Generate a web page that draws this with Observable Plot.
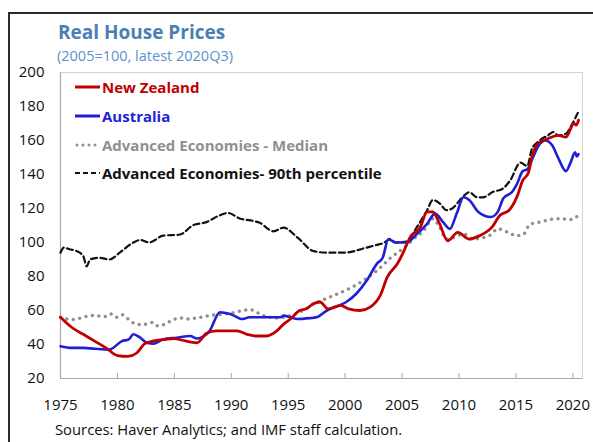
<!DOCTYPE html>
<html>
<head>
<meta charset="utf-8">
<script src="https://cdn.jsdelivr.net/npm/d3@7"></script>
<script src="https://cdn.jsdelivr.net/npm/@observablehq/plot@0.6"></script>
<style>
  html, body { margin: 0; padding: 0; background: #fff; }
  body { width: 593px; height: 442px; position: relative; overflow: hidden; font-family: "Open Sans", "Noto Sans", sans-serif; }
  #frame { position: absolute; left: 8px; top: 12px; width: 590px; height: 440px; border-left: 2px solid #2b2b2b; border-top: 2px solid #2b2b2b; }
  #title { position: absolute; left: 58px; top: 19px; font-size: 19px; font-weight: 700; color: #4a7fb5; white-space: nowrap; }
  #subtitle { position: absolute; left: 57px; top: 46px; font-size: 14.5px; color: #5b92cc; white-space: nowrap; }
  #chart { position: absolute; left: 0; top: 60px; }
  #legend { position: absolute; left: 75px; top: 73px; }
  .row { height: 28.7px; display: flex; align-items: center; font-weight: 700; font-size: 15px; white-space: nowrap; }
  .row svg { margin-right: 1px; }
  #caption { position: absolute; left: 55px; top: 419px; font-size: 14.8px; color: #111; white-space: nowrap; }
</style>
</head>
<body>
<div id="frame"></div>
<div id="title">Real House Prices</div>
<div id="subtitle">(2005=100, latest 2020Q3)</div>
<div id="chart"></div>
<div id="legend"></div>
<div id="caption">Sources: Haver Analytics; and IMF staff calculation.</div>
<script>
// ---- Data ----
const nzX = [1975.0,1976.0,1977.0,1978.0,1979.0,1980.0,1980.9,1981.7,1982.4,1983.1,1984.2,1985.0,1985.7,1987.0,1987.8,1988.7,1990.5,1991.4,1992.2,1993.1,1994.0,1994.6,1995.2,1996.0,1996.6,1997.2,1997.8,1998.5,1999.6,2000.3,2001.3,2002.2,2003.1,2003.7,2004.6,2005.1,2005.7,2006.6,2007.2,2007.7,2008.3,2009.0,2009.9,2010.9,2011.8,2012.9,2013.6,2014.4,2015.1,2015.6,2016.1,2016.4,2016.9,2017.8,2018.7,2019.4,2020.1,2020.3,2020.5];
const nzY = [56,50,46,42,38,33.5,33,35,40.5,42,43,43.5,42.5,41,46.5,48,48,46,45,45,48,52,55,60,61,64,65,61,63,61,60,62,69,79.6,87.6,94,103,109,118,118,111,101,106,102,104,109,116,119,127,136.5,141,150,158,161,163,162,170,169,172];

const auX = [1975.0,1976.0,1977.0,1978.0,1979.3,1980.4,1981.0,1981.4,1982.0,1982.6,1983.2,1984.0,1985.2,1986.4,1987.0,1988.1,1989.0,1989.9,1991.0,1991.6,1992.8,1994.3,1994.6,1995.8,1996.9,1997.5,1998.4,1999.5,2000.1,2001.0,2001.9,2002.8,2003.3,2003.8,2004.4,2005.4,2006.3,2007.2,2007.9,2008.6,2009.2,2009.8,2010.4,2010.9,2011.7,2012.8,2013.4,2013.9,2014.7,2015.1,2015.6,2016.0,2016.5,2017.0,2017.6,2018.2,2018.7,2019.4,2019.8,2020.2,2020.35,2020.5];
const auY = [39,38,38,37.5,37,42,43,46,44,41,40.5,43,44,45,43.5,48,59,58,55,56,56,56,57,55,55.5,56,60,63,65,70,77.6,87.6,91,102,100,100,105,111,117,112,108,117,126.6,125,118,115,118,126,130,134.5,142,143,150,157,160,157,150,142,147,153,150.6,152];

const medX = [1975.0,1976.0,1976.8,1977.7,1978.9,1979.4,1979.9,1980.4,1981.3,1982.2,1983.1,1983.5,1984.2,1984.9,1985.7,1986.1,1988.1,1989.9,1991.6,1992.8,1994.0,1995.2,1996.3,1997.3,1998.7,2000.1,2001.6,2002.8,2004.0,2005.1,2006.0,2006.9,2007.7,2008.3,2008.9,2009.6,2010.4,2011.3,2012.2,2012.8,2013.4,2014.3,2015.1,2015.7,2016.2,2017.1,2018.0,2018.9,2019.8,2020.5];
const medY = [56,54.7,55.6,57,56.5,58,56,57.5,53,51.6,53,51,52,54.7,55.6,55,57,58.4,60.5,57,55.6,57,60,64,68,72,77.6,83.5,91,96.5,102,107,114,109,102,103,105,102,103,104.5,108,106,104,105,110.5,112,113.5,114,113.5,116];

const p90X = [1975.0,1975.3,1975.8,1976.4,1977.0,1977.3,1977.6,1978.4,1979.3,1980.2,1981.4,1982.0,1982.8,1984.0,1985.5,1986.6,1987.8,1989.0,1989.7,1990.8,1991.7,1992.5,1993.7,1994.6,1995.8,1997.2,1998.4,2000.0,2001.6,2002.8,2003.3,2004.0,2004.4,2005.4,2006.3,2007.2,2007.7,2008.3,2008.9,2009.4,2010.3,2010.9,2011.6,2012.1,2013.0,2013.8,2014.5,2015.4,2016.0,2016.4,2016.9,2017.8,2018.3,2018.7,2019.4,2019.8,2020.2,2020.5];
const p90Y = [94,97,96,95,92,86,90,91,90,94,100,101.5,100,104,104.7,110,112,116,117.4,114,113,111.6,106.6,108.7,103,95,94,94,96.5,98.6,99.5,102,100,100.5,109,119,125,123,119,120,126.6,129.6,126.6,126.6,129.8,131.5,136.5,147,145,155,159,163,165,163,164,168,173,177];

const seriesNames = ["New Zealand", "Australia", "Advanced Economies - Median", "Advanced Economies- 90th percentile"];
const xTicks = [1975,1980,1985,1990,1995,2000,2005,2010,2015,2020];
const yTicks = [20,40,60,80,100,120,140,160,180,200];

const zip = (xs, ys) => xs.map((x, i) => ({x, y: ys[i]}));
const nz = zip(nzX, nzY), au = zip(auX, auY), med = zip(medX, medY), p90 = zip(p90X, p90Y);

const colors = {nz: "#c00000", au: "#1f1fd6", med: "#8f8f8f", p90: "#111111"};
const font = "'Open Sans', 'Noto Sans', sans-serif";

const chart = Plot.plot({
  width: 593,
  height: 382,
  marginLeft: 60,
  marginRight: 11,
  marginTop: 12,
  marginBottom: 64,
  style: {fontFamily: font, fontSize: "15px", color: "#111", background: "transparent", overflow: "visible"},
  x: {domain: [1975, 2020.85]},
  y: {domain: [20, 200]},
  marks: [
    Plot.frame({stroke: "#d4d4d4"}),
    Plot.ruleY([20], {stroke: "#a8a8a8", strokeWidth: 1.2}),
    Plot.ruleX([1975], {stroke: "#a8a8a8", strokeWidth: 1.2}),
    Plot.ruleX(xTicks.slice(1), {x: d => d, y1: 20, y2: 23, stroke: "#a8a8a8"}),
    Plot.axisY(yTicks, {tickSize: 0, tickPadding: 16, fontSize: 15, label: null}),
    Plot.axisX(xTicks, {tickSize: 0, tickPadding: 21, fontSize: 15, label: null, tickFormat: d => String(d)}),
    Plot.line(med, {x: "x", y: "y", stroke: colors.med, strokeWidth: 3.5, strokeDasharray: "0,6.5", strokeLinecap: "round", curve: "monotone-x"}),
    Plot.line(p90, {x: "x", y: "y", stroke: colors.p90, strokeWidth: 2.2, strokeDasharray: "6,3.5", curve: "monotone-x"}),
    Plot.line(au, {x: "x", y: "y", stroke: colors.au, strokeWidth: 2.6, curve: "monotone-x"}),
    Plot.line(nz, {x: "x", y: "y", stroke: colors.nz, strokeWidth: 2.8, curve: "monotone-x"})
  ]
});
document.getElementById("chart").appendChild(chart);

// Legend
const legendItems = [
  {name: seriesNames[0], color: colors.nz, dash: null, width: 3, cap: "butt", text: colors.nz},
  {name: seriesNames[1], color: colors.au, dash: null, width: 3, cap: "butt", text: colors.au},
  {name: seriesNames[2], color: colors.med, dash: "0,6", width: 3, cap: "round", text: colors.med},
  {name: seriesNames[3], color: colors.p90, dash: "5,3", width: 2, cap: "butt", text: colors.p90}
];
const legend = document.getElementById("legend");
for (const it of legendItems) {
  const row = document.createElement("div");
  row.className = "row";
  row.style.color = it.text;
  row.innerHTML = `<svg width="26" height="10"><line x1="${it.cap === 'round' ? 2 : 0}" x2="25" y1="5" y2="5" stroke="${it.color}" stroke-width="${it.width}" stroke-linecap="${it.cap}" ${it.dash ? `stroke-dasharray="${it.dash}"` : ""}/></svg><span>${it.name}</span>`;
  legend.appendChild(row);
}
</script>
</body>
</html>
